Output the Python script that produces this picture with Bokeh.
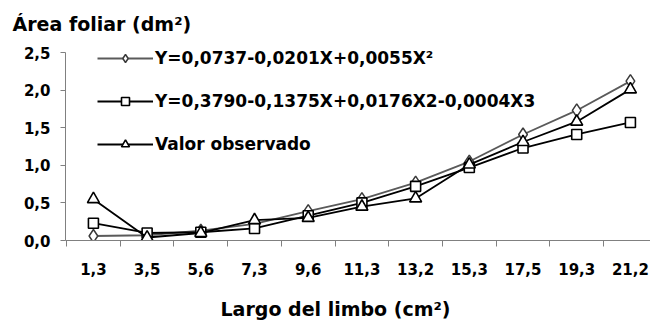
from bokeh.plotting import figure
from bokeh.models import (Range1d, FixedTicker, Legend, LegendItem, LinearAxis,
                          Title, ColumnDataSource)
from bokeh.embed import file_html
from bokeh.resources import INLINE

# ---- data ----
largo = ["1,3", "3,5", "5,6", "7,3", "9,6", "11,3", "13,2", "15,3", "17,5", "19,3", "21,2"]
cuadratica = [0.06, 0.07, 0.13, 0.22, 0.39, 0.55, 0.77, 1.05, 1.41, 1.73, 2.12]
cubica = [0.23, 0.10, 0.11, 0.16, 0.33, 0.50, 0.72, 0.97, 1.23, 1.41, 1.57]
observado = [0.55, 0.04, 0.10, 0.27, 0.30, 0.45, 0.56, 1.01, 1.31, 1.58, 2.01]
y_ticks = [0.0, 0.5, 1.0, 1.5, 2.0, 2.5]

label_quad = "Y=0,0737-0,0201X+0,0055X²"
label_cub = "Y=0,3790-0,1375X+0,0176X2-0,0004X3"
label_obs = "Valor observado"
y_title = "Área foliar (dm²)"
x_title = "Largo del limbo (cm²)"

FONT = "DejaVu Sans"

idx = list(range(len(largo)))
src = ColumnDataSource(dict(x=idx, quad=cuadratica, cub=cubica, obs=observado))

# frame extends a little above 2.5 so the legend fits; the axis line stops at 2.5
p = figure(width=650, height=329, output_backend="svg", toolbar_location=None,
           x_range=Range1d(-0.52, 10.374), y_range=Range1d(0, 2.66),
           min_border_left=65, min_border_right=0, min_border_top=40,
           min_border_bottom=89)
p.outline_line_color = None
p.grid.visible = False
p.background_fill_color = "white"

grey = "#5a5a5a"
r1l = p.line("x", "quad", source=src, line_color=grey, line_width=1.8)
r1m = p.scatter("x", "quad", source=src, marker="diamond", size=13,
                fill_color="white", line_color="#3a3a3a", line_width=1.5)
r2l = p.line("x", "cub", source=src, line_color="black", line_width=1.8)
r2m = p.scatter("x", "cub", source=src, marker="square", size=10,
                fill_color="white", line_color="black", line_width=1.6)
r3l = p.line("x", "obs", source=src, line_color="black", line_width=1.8)
r3m = p.scatter("x", "obs", source=src, marker="triangle", size=12,
                fill_color="white", line_color="black", line_width=1.6)

# axes
xa = p.xaxis[0]
xa.ticker = FixedTicker(ticks=idx, minor_ticks=[i - 0.5 for i in idx])
xa.major_label_overrides = {i: lab for i, lab in zip(idx, largo)}
xa.major_tick_line_color = None
xa.major_tick_out = 0
xa.major_tick_in = 0
xa.minor_tick_out = 6
xa.minor_tick_in = 0
xa.minor_tick_line_color = "#808080"
xa.axis_line_color = "#808080"
xa.major_label_standoff = 16
xa.major_label_text_font = FONT
xa.major_label_text_font_style = "bold"
xa.major_label_text_font_size = "15px"
xa.major_label_text_color = "black"

# invisible spacer axis (one hidden tick gives it height), then the x title
spacer = LinearAxis(ticker=FixedTicker(ticks=[0]), axis_line_color=None,
                    major_tick_line_color=None, minor_tick_line_color=None,
                    major_tick_out=20, major_tick_in=0, minor_tick_out=0,
                    minor_tick_in=0, major_label_standoff=0,
                    major_label_overrides={0: ""},
                    major_label_text_font_size="1px",
                    major_label_text_alpha=0)
p.add_layout(spacer, "below")
xt = Title(text=x_title, align="left", offset=155, standoff=0,
           vertical_align="top", text_font=FONT, text_font_style="bold",
           text_font_size="19px", text_color="black")
p.add_layout(xt, "below")

ya = p.yaxis[0]
ya.ticker = FixedTicker(ticks=y_ticks)
ya.bounds = (0, 2.5)
ya.major_label_overrides = {t: f"{t:.1f}".replace(".", ",") for t in y_ticks}
ya.minor_tick_line_color = None
ya.major_tick_out = 5
ya.major_tick_in = 0
ya.major_tick_line_color = "#808080"
ya.axis_line_color = "#808080"
ya.major_label_standoff = 10
ya.major_label_text_font = FONT
ya.major_label_text_font_style = "bold"
ya.major_label_text_font_size = "15px"
ya.major_label_text_color = "black"

legend = Legend(items=[
    LegendItem(label=label_quad, renderers=[r1l, r1m]),
    LegendItem(label=label_cub, renderers=[r2l, r2m]),
    LegendItem(label=label_obs, renderers=[r3l, r3m]),
], location=(32, 86))
legend.padding = 0
legend.margin = 0
legend.glyph_width = 56
legend.glyph_height = 20
legend.label_height = 20
legend.spacing = 23
legend.label_standoff = 2
legend.border_line_color = None
legend.background_fill_alpha = 0
legend.label_text_font = FONT
legend.label_text_font_style = "bold"
legend.label_text_font_size = "17px"
legend.label_text_color = "black"
p.add_layout(legend)

p.title.text = y_title
p.title.align = "left"
p.title.offset = -53
p.title.standoff = 12
p.title.text_font = FONT
p.title.text_font_style = "bold"
p.title.text_font_size = "19px"
p.title.text_color = "black"

open("out.html", "w").write(file_html(p, INLINE))
